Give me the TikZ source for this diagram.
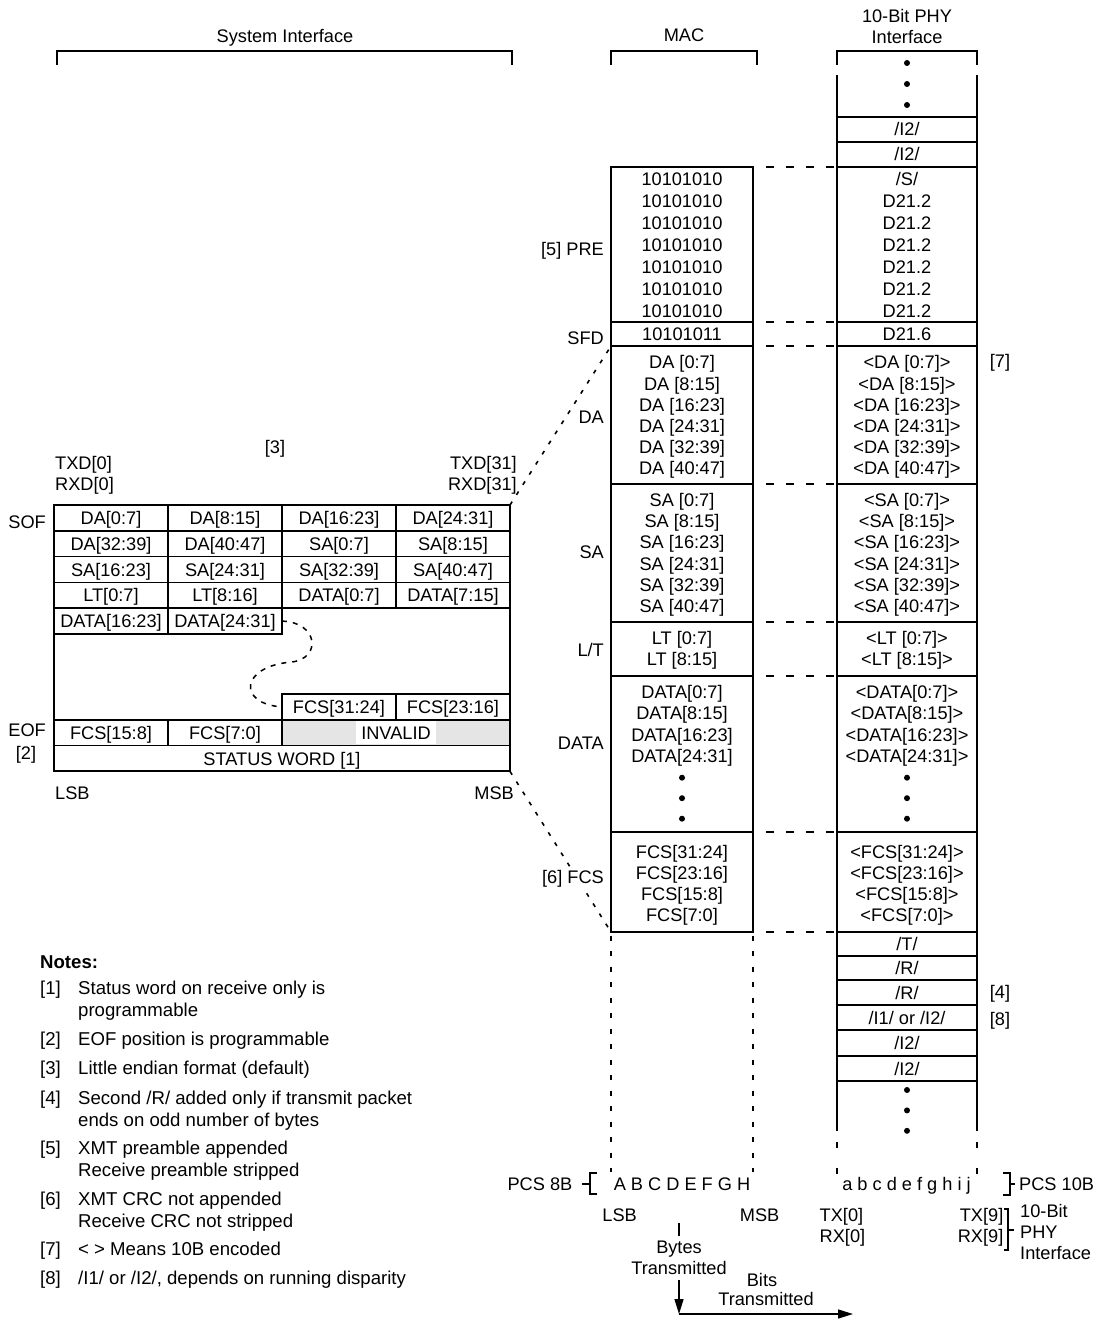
\documentclass[tikz,border=0pt]{standalone}
\usepackage{fontspec}
\setmainfont{Liberation Sans}
\usetikzlibrary{arrows.meta}

\tikzset{
  txt/.style={inner sep=0pt, anchor=base},
  blk/.style={draw, line width=1.8pt, inner sep=0pt, outer sep=0pt},
  macw/.style={blk, minimum width=142pt},
  phyw/.style={blk, minimum width=140pt},
  col/.style={line width=1.8pt},
  cell/.style={draw, line width=1.5pt, minimum width=114pt, minimum height=25.8pt,
    inner sep=0pt, outer sep=0pt, text height=13.2pt, text depth=0pt},
  brk/.style={line width=2pt},
  thinbrk/.style={line width=1.3pt},
  link/.style={line width=1.8pt, dash pattern=on 8pt off 12pt, dash phase=7pt},
  vdot/.style={line width=1.8pt, dash pattern=on 5pt off 10.5pt, dash phase=12pt},
  pdash/.style={line width=1.8pt, dash pattern=on 0pt off 11pt on 6pt off 9pt},
  diag/.style={line width=1.6pt, dash pattern=on 4pt off 8pt},
  curl/.style={line width=1.5pt, dash pattern=on 5pt off 6pt},
  dot/.style={circle, fill, inner sep=0pt, minimum size=6pt},
  arr/.style={line width=1.5pt, -{Triangle[length=15pt,width=9pt]}},
}

\begin{document}
\begin{tikzpicture}[x=1pt, y=-1pt, font=\fontsize{18.2}{21.5}\selectfont]
\useasboundingbox (0,0) rectangle (1115,1321);

% headers
\node[txt] (sysif) at (285,42.5) {System Interface};
\node[txt] (mac) at (684,42) {MAC};
\node[txt] (phyA) at (907,22.5) {10-Bit PHY};
\node[txt] (phyB) at (907,43.5) {Interface};
\draw[brk] (57,65) -- (57,51) -- (512,51) -- (512,65);
\draw[brk] (611,65) -- (611,51) -- (757,51) -- (757,65);
\draw[brk] (837,65) -- (837,51) -- (977,51) -- (977,65);

% MAC column
\node[macw, minimum height=155pt] (macPRE) at (682,244.5) {};
\node[macw, minimum height=24pt] (macSFD) at (682,334) {};
\node[macw, minimum height=138pt] (macDA) at (682,415) {};
\node[macw, minimum height=138pt] (macSA) at (682,553) {};
\node[macw, minimum height=54pt] (macLT) at (682,649) {};
\node[macw, minimum height=156pt] (macDATA) at (682,754) {};
\node[macw, minimum height=100pt] (macFCS) at (682,882) {};

\foreach \i in {0,...,6}
  \node[txt] (mpre\i) at (682,185.6+21.95*\i) {10101010};
\node[txt] (msfd) at (682,340.6) {10101011};
\foreach \t [count=\i from 0] in {DA [0:7],DA [8:15],DA [16:23],DA [24:31],DA [32:39],DA [40:47]}
  \node[txt] (mda\i) at (682,368.9+21.15*\i) {\t};
\foreach \t [count=\i from 0] in {SA [0:7],SA [8:15],SA [16:23],SA [24:31],SA [32:39],SA [40:47]}
  \node[txt] (msa\i) at (682,506.6+21.15*\i) {\t};
\foreach \t [count=\i from 0] in {LT [0:7],LT [8:15]}
  \node[txt] (mlt\i) at (682,644.6+21*\i) {\t};
\foreach \t [count=\i from 0] in {DATA[0:7],DATA[8:15],DATA[16:23],DATA[24:31]}
  \node[txt] (mdat\i) at (682,698.6+21.2*\i) {\t};
\foreach \i in {0,1,2}
  \node[dot] (mdot\i) at (682,777.7+20.5*\i) {};
\foreach \t [count=\i from 0] in {FCS[31:24],FCS[23:16],FCS[15:8],FCS[7:0]}
  \node[txt] (mfcs\i) at (682,858.6+21*\i) {\t};

% PHY column
\foreach \i in {0,1,2}
  \node[dot] (ptop\i) at (907,63+21*\i) {};
\node[phyw, minimum height=25pt] (phyIa) at (907,129.5) {};
\node[phyw, minimum height=25pt] (phyIb) at (907,154.5) {};
\node[phyw, minimum height=155pt] (phyPRE) at (907,244.5) {};
\node[phyw, minimum height=24pt] (phySFD) at (907,334) {};
\node[phyw, minimum height=138pt] (phyDA) at (907,415) {};
\node[phyw, minimum height=138pt] (phySA) at (907,553) {};
\node[phyw, minimum height=54pt] (phyLT) at (907,649) {};
\node[phyw, minimum height=156pt] (phyDATA) at (907,754) {};
\node[phyw, minimum height=100pt] (phyFCS) at (907,882) {};
\node[phyw, minimum height=24pt] (phyT) at (907,944) {};
\node[phyw, minimum height=24pt] (phyRa) at (907,968) {};
\node[phyw, minimum height=25pt] (phyRb) at (907,992.5) {};
\node[phyw, minimum height=25pt] (phyIc) at (907,1017.5) {};
\node[phyw, minimum height=26pt] (phyId) at (907,1043) {};
\node[phyw, minimum height=25pt] (phyIe) at (907,1068.5) {};

\coordinate (phyTopL) at (837,75);
\coordinate (phyTopR) at (977,75);
\coordinate (phyBotL) at (837,1131);
\coordinate (phyBotR) at (977,1131);
\coordinate (phyEndL) at (837,1175);
\coordinate (phyEndR) at (977,1175);
\draw[col] (phyTopL) -- (phyIa.north west);
\draw[col] (phyTopR) -- (phyIa.north east);
\draw[col] (phyIe.south west) -- (phyBotL);
\draw[col] (phyIe.south east) -- (phyBotR);
\draw[pdash] (phyBotL) -- (phyEndL);
\draw[pdash] (phyBotR) -- (phyEndR);

\node[txt] (pia) at (907,136) {/I2/};
\node[txt] (pib) at (907,161) {/I2/};
\foreach \t [count=\i from 0] in {/S/,D21.2,D21.2,D21.2,D21.2,D21.2,D21.2}
  \node[txt] (ppre\i) at (907,185.6+21.95*\i) {\t};
\node[txt] (psfd) at (907,340.6) {D21.6};
\foreach \t [count=\i from 0] in {<DA [0:7]>,<DA [8:15]>,<DA [16:23]>,<DA [24:31]>,<DA [32:39]>,<DA [40:47]>}
  \node[txt] (pda\i) at (907,368.9+21.15*\i) {\t};
\foreach \t [count=\i from 0] in {<SA [0:7]>,<SA [8:15]>,<SA [16:23]>,<SA [24:31]>,<SA [32:39]>,<SA [40:47]>}
  \node[txt] (psa\i) at (907,506.6+21.15*\i) {\t};
\foreach \t [count=\i from 0] in {<LT [0:7]>,<LT [8:15]>}
  \node[txt] (plt\i) at (907,644.6+21*\i) {\t};
\foreach \t [count=\i from 0] in {<DATA[0:7]>,<DATA[8:15]>,<DATA[16:23]>,<DATA[24:31]>}
  \node[txt] (pdat\i) at (907,698.6+21.2*\i) {\t};
\foreach \i in {0,1,2}
  \node[dot] (pdot\i) at (907,777.7+20.5*\i) {};
\foreach \t [count=\i from 0] in {<FCS[31:24]>,<FCS[23:16]>,<FCS[15:8]>,<FCS[7:0]>}
  \node[txt] (pfcs\i) at (907,858.6+21*\i) {\t};
\node[txt] (pt) at (907,950.6) {/T/};
\node[txt] (pra) at (907,974.6) {/R/};
\node[txt] (prb) at (907,999.1) {/R/};
\node[txt] (pic) at (907,1024.1) {/I1/ or /I2/};
\node[txt] (pid) at (907,1049.6) {/I2/};
\node[txt] (pie) at (907,1075.1) {/I2/};
\foreach \i in {0,1,2}
  \node[dot] (pbot\i) at (907,1090+20.4*\i) {};

\node[txt] (n7) at (1000,367.3) {[7]};
\node[txt] (n4) at (1000,998.3) {[4]};
\node[txt] (n8) at (1000,1025.6) {[8]};

% MAC to PHY
\foreach \b in {PRE,SFD,DA,SA,LT,DATA,FCS}
  \draw[link] (mac\b.north east) -- (phy\b.north west);
\draw[link] (macFCS.south east) -- (phyFCS.south west);

\coordinate (macEndL) at (611,1172);
\coordinate (macEndR) at (753,1172);
\draw[vdot] (macFCS.south west) -- (macEndL);
\draw[vdot] (macFCS.south east) -- (macEndR);

% system interface table
\foreach \a/\b/\c/\d [count=\r from 0] in {DA[0:7]/DA[8:15]/DA[16:23]/DA[24:31],
    DA[32:39]/DA[40:47]/SA[0:7]/SA[8:15], SA[16:23]/SA[24:31]/SA[32:39]/SA[40:47],
    LT[0:7]/LT[8:16]/DATA[0:7]/DATA[7:15]} {
  \node[cell] (t\r1) at (111,517.9+25.8*\r) {\a};
  \node[cell] (t\r2) at (225,517.9+25.8*\r) {\b};
  \node[cell] (t\r3) at (339,517.9+25.8*\r) {\c};
  \node[cell] (t\r4) at (453,517.9+25.8*\r) {\d};
}
\node[cell] (t41) at (111,621.1) {DATA[16:23]};
\node[cell] (t42) at (225,621.1) {DATA[24:31]};
\node[cell] (f3) at (339,706.9) {FCS[31:24]};
\node[cell] (f4) at (453,706.9) {FCS[23:16]};
\node[cell] (e1) at (111,732.7) {FCS[15:8]};
\node[cell] (e2) at (225,732.7) {FCS[7:0]};
\node[cell, minimum width=228pt, fill=gray!20] (inv) at (396,732.7) {};
\node[fill=white, inner xsep=5.3pt, inner ysep=0pt, minimum height=23.5pt,
  text height=13.2pt, text depth=0pt] (invtxt) at (396,732.7) {INVALID};
\node[cell, minimum width=456pt] (stat) at (282,758.5) {STATUS WORD [1]};
\node[draw, line width=2pt, minimum width=456pt, minimum height=266.4pt,
  inner sep=0pt, outer sep=0pt] (frame) at (282,638.2) {};

\coordinate (bend) at (292,662);
\draw[curl] (t42.east) .. controls +(36,1) and +(30,-4) .. (bend)
  .. controls +(-52,4) and +(-45,-3) .. (f3.west);

\node[txt] (n3) at (275,453) {[3]};
\node[txt, anchor=base west] (txd0) at (55,469) {TXD[0]};
\node[txt, anchor=base west] (rxd0) at (55,490.5) {RXD[0]};
\node[txt, anchor=base east] (txd31) at (517,469) {TXD[31]};
\node[txt, anchor=base east] (rxd31) at (517,490.5) {RXD[31]};
\node[txt, anchor=base east] (sof) at (46,528.3) {SOF};
\node[txt, anchor=base east] (eof) at (46,736.6) {EOF};
\node[txt] (n2) at (26,759.6) {[2]};
\node[txt, anchor=base west] (lsbL) at (55,799.3) {LSB};
\node[txt, anchor=base east] (msbL) at (514,799.3) {MSB};

\draw[diag] (frame.north east) -- (macSFD.south west);
\draw[diag] (frame.south east) -- (macFCS.south west);

% MAC field labels, over the dotted lines
\node[txt, anchor=base east] (lpre) at (604,255.6) {[5] PRE};
\node[txt, anchor=base east] (lsfd) at (604,344.6) {SFD};
\node[txt, anchor=base east] (lda) at (604,423.6) {DA};
\node[txt, anchor=base east] (lsa) at (604,558.3) {SA};
\node[txt, anchor=base east] (llt) at (604,656.6) {L/T};
\node[txt, anchor=base east] (ldat) at (604,749.6) {DATA};
\node[txt, anchor=base east, fill=white, inner xsep=2pt, inner ysep=3pt] (lfcs) at (606,883.6) {[6] FCS};

% bit order
\node[txt, anchor=base east] (pcs8) at (572.5,1190) {PCS 8B};
\draw[thinbrk] (582,1184) -- (590,1184);
\draw[thinbrk] (597,1173) -- (590,1173) -- (590,1194) -- (597,1194);
\node[txt] (bits8) at (682,1190) {A B C D E F G H};
\node[txt] (bits10) at (906.5,1190) {a b c d e f g h i j};
\draw[thinbrk] (1003,1173) -- (1010,1173) -- (1010,1195) -- (1003,1195);
\draw[thinbrk] (1010,1184) -- (1015,1184);
\node[txt, anchor=base west] (pcs10) at (1019,1190) {PCS 10B};

\node[txt] (lsbB) at (619.6,1221.6) {LSB};
\node[txt] (msbB) at (759.6,1221.6) {MSB};
\node[txt, anchor=base west] (tx0) at (819.5,1221.6) {TX[0]};
\node[txt, anchor=base west] (rx0) at (819.5,1242.3) {RX[0]};
\node[txt, anchor=base east] (tx9) at (1003.5,1221.6) {TX[9]};
\node[txt, anchor=base east] (rx9) at (1003.5,1242.3) {RX[9]};
\draw[thinbrk] (1004,1209) -- (1008,1209) -- (1008,1250) -- (1004,1250);
\draw[thinbrk] (1008,1230) -- (1014,1230);
\node[txt, anchor=base west] (phyC) at (1020,1217.3) {10-Bit};
\node[txt, anchor=base west] (phyD) at (1020,1238.6) {PHY};
\node[txt, anchor=base west] (phyE) at (1020,1259.6) {Interface};

\node[txt] (byt1) at (679,1253.6) {Bytes};
\node[txt] (byt2) at (679,1274.6) {Transmitted};
\node[txt] (bit1) at (762,1286.6) {Bits};
\node[txt] (bit2) at (766,1305.6) {Transmitted};
\coordinate (tickTop) at (679,1223);
\coordinate (turn) at (679,1314);
\coordinate (bitEnd) at (853,1314);
\draw[line width=1.5pt] (tickTop) -- ([yshift=5pt]byt1.north);
\draw[arr] ([yshift=-5pt]byt2.south) -- (turn);
\draw[arr] (turn) -- (bitEnd);

% notes
\begin{scope}[font=\fontsize{18.6}{21.5}\selectfont]
\node[txt, anchor=base west, font=\fontsize{18.6}{21.5}\selectfont\bfseries] (notes) at (40,968.3) {Notes:};
\node[txt, anchor=base west] (k1) at (40,994.6) {[1]};
\node[txt, anchor=base west] (k1a) at (78,994.6) {Status word on receive only is};
\node[txt, anchor=base west] (k1b) at (78,1016.1) {programmable};
\node[txt, anchor=base west] (k2) at (40,1045.6) {[2]};
\node[txt, anchor=base west] (k2a) at (78,1045.6) {EOF position is programmable};
\node[txt, anchor=base west] (k3) at (40,1074.6) {[3]};
\node[txt, anchor=base west] (k3a) at (78,1074.6) {Little endian format (default)};
\node[txt, anchor=base west] (k4) at (40,1104.6) {[4]};
\node[txt, anchor=base west] (k4a) at (78,1104.6) {Second /R/ added only if transmit packet};
\node[txt, anchor=base west] (k4b) at (78,1126.1) {ends on odd number of bytes};
\node[txt, anchor=base west] (k5) at (40,1154.6) {[5]};
\node[txt, anchor=base west] (k5a) at (78,1154.6) {XMT preamble appended};
\node[txt, anchor=base west] (k5b) at (78,1176.1) {Receive preamble stripped};
\node[txt, anchor=base west] (k6) at (40,1205.6) {[6]};
\node[txt, anchor=base west] (k6a) at (78,1205.6) {XMT CRC not appended};
\node[txt, anchor=base west] (k6b) at (78,1227.1) {Receive CRC not stripped};
\node[txt, anchor=base west] (k7) at (40,1255.6) {[7]};
\node[txt, anchor=base west] (k7a) at (78,1255.6) {< > Means 10B encoded};
\node[txt, anchor=base west] (k8) at (40,1284.6) {[8]};
\node[txt, anchor=base west] (k8a) at (78,1284.6) {/I1/ or /I2/, depends on running disparity};
\end{scope}
\end{tikzpicture}
\end{document}
